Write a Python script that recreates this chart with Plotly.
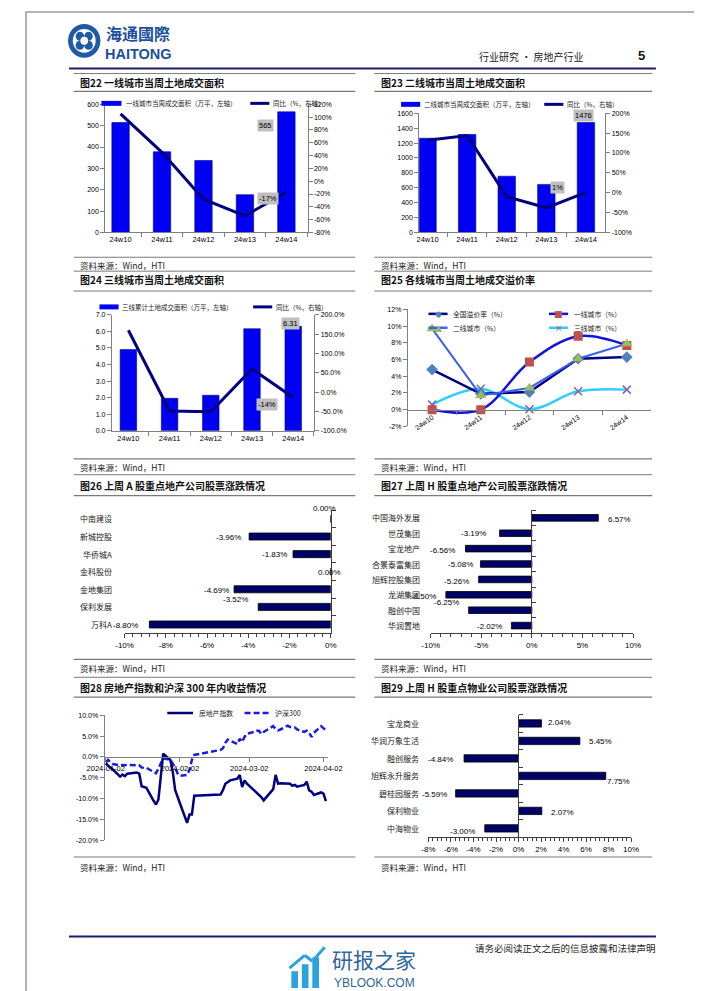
import plotly.graph_objects as go

# ---------------- data ----------------
weeks = ['24w10', '24w11', '24w12', '24w13', '24w14']
tier1_area = [515, 378, 337, 177, 565]
tier1_yoy = [105, 45, -28, -54, -17]
tier2_area = [1265, 1315, 755, 645, 1476]
tier2_yoy = [132, 144, -10, -38, 1]
tier3_area = [4.90, 1.96, 2.14, 6.16, 6.31]
tier3_yoy = [160, -49, -51, 60, -14]

prem_nat = [4.8, 1.9, 2.1, 6.1, 6.3]
prem_t1 = [0.0, 0.0, 5.7, 8.8, 7.7]
prem_t2 = [9.7, 1.7, 2.6, 6.1, 7.9]
prem_t3 = [0.6, 2.5, 0.05, 2.2, 2.4]

a_names = ['中南建设', '新城控股', '华侨城A', '金科股份', '金地集团', '保利发展', '万科A']
a_chg = [0.00, -3.96, -1.83, 0.00, -4.69, -3.52, -8.80]

h_names = ['中国海外发展', '世茂集团', '宝龙地产', '合景泰富集团', '旭辉控股集团', '龙湖集团', '融创中国', '华润置地']
h_chg = [6.57, -3.19, -6.56, -5.08, -5.26, -8.50, -6.25, -2.02]

pm_names = ['宝龙商业', '华润万象生活', '融创服务', '旭辉永升服务', '碧桂园服务', '保利物业', '中海物业']
pm_chg = [2.04, 5.45, -4.84, 7.75, -5.59, 2.07, -3.00]

dates = ['2024-01-02', '2024-01-03', '2024-01-04', '2024-01-05', '2024-01-08', '2024-01-09', '2024-01-10',
         '2024-01-11', '2024-01-12', '2024-01-15', '2024-01-16', '2024-01-17', '2024-01-18', '2024-01-19',
         '2024-01-22', '2024-01-23', '2024-01-24', '2024-01-25', '2024-01-26', '2024-01-29', '2024-01-30',
         '2024-01-31', '2024-02-01', '2024-02-02', '2024-02-05', '2024-02-06', '2024-02-07', '2024-02-08',
         '2024-02-19', '2024-02-20', '2024-02-21', '2024-02-22', '2024-02-23', '2024-02-26', '2024-02-27',
         '2024-02-28', '2024-02-29', '2024-03-01', '2024-03-04', '2024-03-05', '2024-03-06', '2024-03-07',
         '2024-03-08', '2024-03-11', '2024-03-12', '2024-03-13', '2024-03-14', '2024-03-15', '2024-03-18',
         '2024-03-19', '2024-03-20', '2024-03-21', '2024-03-22', '2024-03-25', '2024-03-26', '2024-03-27',
         '2024-03-28', '2024-03-29', '2024-04-01', '2024-04-02', '2024-04-03']
re_index = [-1.5, -2.1, -2.6, -3.0, -4.7, -4.2, -4.6, -4.0, -3.9, -3.7, -4.0, -7.0, -7.2, -7.4,
            -10.5, -11.4, -10.2, -4.5, 0.8, -0.7, -3.5, -7.9, -9.3, -11.1, -15.8, -13.8, -13.8, -9.3,
            -9.0, -7.9, -6.4, -6.1, -5.6, -5.2, -4.3, -7.2, -5.6, -6.4, -7.9, -8.5, -9.0, -9.6,
            -10.4, -8.5, -7.7, -4.3, -6.4, -6.3, -6.4, -6.4, -6.9, -6.7, -7.1, -6.7, -5.9, -8.0,
            -8.3, -9.1, -8.5, -8.8, -10.6]
hs300 = [-1.3, -0.7, -1.3, -1.7, -2.0, -1.9, -2.0, -1.8, -1.9, -1.9, -2.0, -2.5, -2.7, -2.6,
         -3.6, -3.9, -2.8, -1.3, -0.3, -0.7, -1.7, -2.5, -3.9, -4.5, -4.3, -3.1, -0.7, 0.5,
         1.7, 2.1, 3.4, 4.2, 3.9, 3.1, 4.4, 3.6, 4.8, 5.6, 6.0, 6.3, 6.3, 5.5,
         6.0, 7.1, 7.4, 6.7, 6.4, 6.6, 7.5, 7.2, 7.1, 7.1, 6.6, 6.0, 6.3, 5.8,
         4.8, 5.8, 7.4, 7.0, 6.4]

# tick labels
t22_l = [0, 100, 200, 300, 400, 500, 600]
t22_r = [-80, -60, -40, -20, 0, 20, 40, 60, 80, 100, 120]
t23_l = [0, 200, 400, 600, 800, 1000, 1200, 1400, 1600]
t23_r = [-100, -50, 0, 50, 100, 150, 200]
t24_l = [0, 1, 2, 3, 4, 5, 6, 7]
t24_r = [-100, -50, 0, 50, 100, 150, 200]
t25_y = [-2, 0, 2, 4, 6, 8, 10, 12]
t26_x = [-10, -8, -6, -4, -2, 0]
t27_x = [-10, -5, 0, 5, 10]
t28_y = [-20, -15, -10, -5, 0, 5, 10]
t28_x = ['2024-01-02', '2024-02-02', '2024-03-02', '2024-04-02']
t29_x = [-8, -6, -4, -2, 0, 2, 4, 6, 8, 10]

# ---------------- styling helpers ----------------
W, H = 702, 991
CJK = "Noto Sans CJK SC, sans-serif"
NUM = "Liberation Sans, Arial, sans-serif"
GRAY = "#808080"
DARK = "#404040"
BLUE = "#0000F2"
NAVY = "#000080"
HBAR = "#000066"


def X(px):
    return px / W


def Y(py):
    return 1 - py / H


def pct(vals, fmt="{:g}%"):
    return [fmt.format(v).replace('−', '-') for v in vals]


shapes = []
ann = []


def line_px(x0, y0, x1, y1, color, width=1, dash='solid'):
    shapes.append(dict(type='line', xref='paper', yref='paper', x0=X(x0), y0=Y(y0), x1=X(x1), y1=Y(y1),
                       line=dict(color=color, width=width, dash=dash)))


def rect_px(x0, y0, x1, y1, fill, lc=None, lw=0):
    shapes.append(dict(type='rect', xref='paper', yref='paper', x0=X(x0), y0=Y(y1), x1=X(x1), y1=Y(y0),
                       fillcolor=fill, line=dict(color=lc or fill, width=lw)))


def circ_px(x0, y0, x1, y1, fill):
    shapes.append(dict(type='circle', xref='paper', yref='paper', x0=X(x0), y0=Y(y1), x1=X(x1), y1=Y(y0),
                       fillcolor=fill, line=dict(color=fill, width=0)))


def text_px(x, y, s, size, color='#000', xanchor='left', family=CJK, bold=False):
    ann.append(dict(xref='paper', yref='paper', x=X(x), y=Y(y), text=f'<b>{s}</b>' if bold else s,
                    showarrow=False, xanchor=xanchor, yanchor='middle',
                    font=dict(family=family, size=size, color=color)))


def axis(**kw):
    d = dict(showgrid=False, zeroline=False, showline=True, linecolor=GRAY, linewidth=1,
             ticks='outside', ticklen=4, tickcolor=GRAY, tickwidth=1,
             tickfont=dict(family=NUM, size=7, color='#000'), fixedrange=True)
    d.update(kw)
    return d


fig = go.Figure()

# ---------------- page frame, header, footer ----------------
shapes.append(dict(type='rect', xref='paper', yref='paper', x0=0, x1=1, y0=0, y1=1,
                   line=dict(color='#9a9a9a', width=1.5)))
# logo emblem
circ_px(44, 12, 78, 46, '#1E5AA6')
circ_px(49, 17, 73, 41, '#ffffff')
circ_px(52, 20, 61, 29, '#1E5AA6')
circ_px(61, 20, 70, 29, '#1E5AA6')
circ_px(52, 29, 61, 38, '#1E5AA6')
circ_px(61, 29, 70, 38, '#1E5AA6')
circ_px(57, 25, 65, 33, '#ffffff')
text_px(82, 21.5, '海通國際', 16, '#1B4F9C', bold=True)
text_px(81, 42, 'HAITONG', 14.5, '#1B4F9C', family=NUM, bold=True)
text_px(529, 45, '行业研究 • 房地产行业', 10, '#222', xanchor='center')
text_px(645, 44, '5', 13, '#111', xanchor='center', family=NUM, bold=True)
line_px(45, 57, 660, 57, '#1C1C6C', 2)

line_px(45, 931, 660, 931, '#1C1C6C', 2)
text_px(662, 943, '请务必阅读正文之后的信息披露和法律声明', 9.5, '#222', xanchor='right')
# watermark
rect_px(278, 966, 285, 983, '#2AA3DF')
rect_px(289, 959, 296, 983, '#2AA3DF')
rect_px(300, 952, 307, 983, '#2AA3DF')
line_px(276, 963, 292, 950, '#2AA3DF', 3)
line_px(292, 950, 300, 956, '#2AA3DF', 3)
line_px(300, 956, 313, 942, '#2AA3DF', 3)
text_px(319, 954, '研报之家', 21, '#2F669E')
text_px(321, 978, 'YBLOOK.COM', 12, '#2F669E', family=NUM)

# ---------------- section frames ----------------
rows = [
    (62, 71, 80, 247, 255),
    (261, 269, 281, 450, 458),
    (466, 477, 487, 652, 661),
    (670, 680, 690, 851, 861),
]
titles = [
    ('图22 一线城市当周土地成交面积', '图23 二线城市当周土地成交面积'),
    ('图24 三线城市当周土地成交面积', '图25 各线城市当周土地成交溢价率'),
    ('图26 上周 A 股重点地产公司股票涨跌情况', '图27 上周 H 股重点地产公司股票涨跌情况'),
    ('图28 房地产指数和沪深 300 年内收益情况', '图29 上周 H 股重点物业公司股票涨跌情况'),
]
cols = [(50, 345, 55), (365, 656, 370)]
for (top, ty, under, bottom, sy), tt in zip(rows, titles):
    for (cx0, cx1, tx), t in zip(cols, tt):
        line_px(cx0, top, cx1, top, '#7a7a7a', 1)
        line_px(cx0, under, cx1, under, '#7a7a7a', 1.2)
        line_px(cx0, bottom, cx1, bottom, '#7a7a7a', 1.2)
        text_px(tx, ty, t, 10, '#111', bold=True)
        text_px(tx, sy, '资料来源：Wind，HTI', 8.5, '#222')

# ---------------- chart 22 ----------------
fig.add_trace(go.Bar(x=weeks, y=tier1_area, xaxis='x', yaxis='y', width=0.42,
                     marker=dict(color=BLUE, line=dict(color='#00008B', width=0.6)), showlegend=False))
fig.add_trace(go.Scatter(x=weeks, y=tier1_yoy, xaxis='x', yaxis='y9', mode='lines',
                         line=dict(color=NAVY, width=3), showlegend=False))
# ---------------- chart 23 ----------------
fig.add_trace(go.Bar(x=weeks, y=tier2_area, xaxis='x2', yaxis='y2', width=0.44,
                     marker=dict(color=BLUE, line=dict(color='#00008B', width=0.6)), showlegend=False))
fig.add_trace(go.Scatter(x=weeks, y=tier2_yoy, xaxis='x2', yaxis='y10', mode='lines',
                         line=dict(color=NAVY, width=3), showlegend=False))
# ---------------- chart 24 ----------------
fig.add_trace(go.Bar(x=weeks, y=tier3_area, xaxis='x3', yaxis='y3', width=0.40,
                     marker=dict(color=BLUE, line=dict(color='#00008B', width=0.6)), showlegend=False))
fig.add_trace(go.Scatter(x=weeks, y=tier3_yoy, xaxis='x3', yaxis='y11', mode='lines',
                         line=dict(color=NAVY, width=3), showlegend=False))
# ---------------- chart 25 ----------------
fig.add_trace(go.Scatter(x=weeks, y=prem_t3, xaxis='x4', yaxis='y4', mode='lines+markers',
                         line=dict(color='#33CCFF', width=2.5, shape='spline', smoothing=1),
                         marker=dict(symbol='x-thin', size=8, line=dict(color='#8064A2', width=1.5)),
                         showlegend=False))
fig.add_trace(go.Scatter(x=weeks, y=prem_nat, xaxis='x4', yaxis='y4', mode='lines+markers',
                         line=dict(color=NAVY, width=2.5),
                         marker=dict(symbol='diamond', size=9, color='#4F81BD'), showlegend=False))
fig.add_trace(go.Scatter(x=weeks, y=prem_t1, xaxis='x4', yaxis='y4', mode='lines+markers',
                         line=dict(color='#1414D8', width=2.5, shape='spline', smoothing=1),
                         marker=dict(symbol='square', size=9, color='#C0504D'), showlegend=False))
fig.add_trace(go.Scatter(x=weeks, y=prem_t2, xaxis='x4', yaxis='y4', mode='lines+markers',
                         line=dict(color='#3A62E8', width=2),
                         marker=dict(symbol='triangle-up', size=10, color='#9BBB59'), showlegend=False))
# ---------------- chart 26/27/29 ----------------
for xs, ys, xa, ya, w in [(a_chg, a_names, 'x5', 'y5', 0.40), (h_chg, h_names, 'x6', 'y6', 0.43),
                          (pm_chg, pm_names, 'x8', 'y8', 0.42)]:
    fig.add_trace(go.Bar(x=xs, y=ys, orientation='h', xaxis=xa, yaxis=ya, width=w,
                         marker=dict(color=HBAR, line=dict(color='#000000', width=0.8)), showlegend=False))
# ---------------- chart 28 ----------------
fig.add_trace(go.Scatter(x=dates, y=hs300, xaxis='x7', yaxis='y7', mode='lines',
                         line=dict(color='#1A1AE6', width=2.5, dash='6px,3px'), showlegend=False))
fig.add_trace(go.Scatter(x=dates, y=re_index, xaxis='x7', yaxis='y7', mode='lines',
                         line=dict(color=NAVY, width=2.5), showlegend=False))

# ---------------- legends (manual) ----------------
# chart 22
rect_px(79, 89.5, 100, 94.5, BLUE)
text_px(103, 92, '一线城市当周成交面积（万平，左轴）', 6.5, '#222')
line_px(235, 92, 255, 92, NAVY, 3)
text_px(257, 92, '同比（%，右轴）', 6.5, '#222')
# chart 23
rect_px(393, 90.5, 413, 95.5, BLUE)
text_px(415, 93, '二线城市当周成交面积（万平，左轴）', 6.5, '#222')
line_px(543, 93, 563, 93, NAVY, 3)
text_px(565, 93, '同比（%，右轴）', 6.5, '#222')
# chart 24
rect_px(77, 294.5, 97, 299.5, BLUE)
text_px(99, 297, '三线累计土地成交面积（万平，左轴）', 6.5, '#222')
line_px(238, 297, 258, 297, NAVY, 3)
text_px(260, 297, '同比（%，右轴）', 6.5, '#222')
# chart 25
leg25 = [(421.7, 304, NAVY, '◆', '#4F81BD', '全国溢价率（%）'),
         (548, 304, '#1414D8', '■', '#C0504D', '一线城市（%）'),
         (421.7, 318, '#3A62E8', '▲', '#9BBB59', '二线城市（%）'),
         (548, 318, '#33CCFF', '×', '#8064A2', '三线城市（%）')]
for lx, ly, lc, sym, mc, lab in leg25:
    line_px(lx, ly, lx + 20, ly, lc, 2.5)
    text_px(lx + 10, ly, sym, 9, mc, xanchor='center', family='DejaVu Sans')
    text_px(lx + 24, ly, lab, 6.8, '#222')
# chart 28
line_px(148, 706, 175, 706, NAVY, 2.5)
text_px(179, 706, '房地产指数', 6.8, '#222')
line_px(229, 706, 256, 706, '#1A1AE6', 2.5, '6px,3px')
text_px(259, 706, '沪深300', 7, '#222')

# ---------------- data labels ----------------
def boxlab(xa, ya, x, y, s, xs, ys):
    ann.append(dict(xref=xa, yref=ya, x=x, y=y, text=s, showarrow=False, xshift=xs, yshift=ys,
                    bgcolor='#BFBFBF', borderpad=1, font=dict(family=NUM, size=7.5, color='#000')))


boxlab('x', 'y', weeks[4], tier1_area[4], f'{tier1_area[4]}', -21, -14)
boxlab('x', 'y9', weeks[4], tier1_yoy[4], f'{tier1_yoy[4]}%', -18, -6)
boxlab('x2', 'y2', weeks[4], tier2_area[4], f'{tier2_area[4]}', -2, 7)
boxlab('x2', 'y10', weeks[4], tier2_yoy[4], f'{tier2_yoy[4]}%', -28, 5)
boxlab('x3', 'y3', weeks[4], tier3_area[4], f'{tier3_area[4]:.2f}', -3, 3)
boxlab('x3', 'y11', weeks[4], tier3_yoy[4], f'{tier3_yoy[4]}%', -26, -7)

lab_a = [('center', -6, 10.6), ('right', -6, -1), ('right', -4, 0), ('center', -1, -1),
         ('right', -3, -1), ('right', -8, 7.4), ('right', -9, -1.5)]
lab_h = [('left', 8, -1.5), ('right', -12, 0), ('right', -8, -2), ('right', -5.5, 0),
         ('right', -7.5, -2), ('right', -7.5, -2), ('right', -8, 8), ('right', -7, -1)]
lab_pm = [('left', 5, 1), ('left', 6.7, -1), ('right', -9, -0.6), ('left', -0.5, -6),
          ('right', -7, -1), ('left', 7, -2), ('right', -7.6, -3)]
for vals, names, offs, xa, ya, catx in [(a_chg, a_names, lab_a, 'x5', 'y5', 92.5),
                                        (h_chg, h_names, lab_h, 'x6', 'y6', 415),
                                        (pm_chg, pm_names, lab_pm, 'x8', 'y8', 414)]:
    for v, n, (xan, xs, ys) in zip(vals, names, offs):
        ann.append(dict(xref=xa, yref=ya, x=v, y=n, text=f'{v:.2f}%', showarrow=False, xanchor=xan,
                        xshift=xs, yshift=ys, font=dict(family=NUM, size=8, color='#000')))
        ann.append(dict(xref='paper', yref=ya, x=X(catx), y=n, text=n, showarrow=False, xanchor='right',
                        font=dict(family=CJK, size=8, color='#222')))

# ---------------- axes ----------------
cat5 = dict(type='category', categoryorder='array', categoryarray=weeks, tickson='boundaries')
lay = {}
lay['xaxis'] = axis(domain=[X(83), X(295)], anchor='y', range=[-0.37, 4.51],
                    tickfont=dict(family=NUM, size=7.5, color='#000'), **cat5)
lay['yaxis'] = axis(domain=[Y(222), Y(93)], anchor='x', range=[0, 600], tickvals=t22_l)
lay['yaxis9'] = axis(overlaying='y', anchor='x', side='right', range=[-80, 120],
                     tickvals=t22_r, ticktext=pct(t22_r))
lay['xaxis2'] = axis(domain=[X(412), X(607)], anchor='y2', range=[-0.21, 4.49],
                     tickfont=dict(family=NUM, size=7.5, color='#000'), **cat5)
lay['yaxis2'] = axis(domain=[Y(222), Y(102)], anchor='x2', range=[0, 1600], tickvals=t23_l)
lay['yaxis10'] = axis(overlaying='y2', anchor='x2', side='right', range=[-100, 200],
                      tickvals=t23_r, ticktext=pct(t23_r))
lay['xaxis3'] = axis(domain=[X(90), X(302)], anchor='y3', range=[-0.40, 4.51],
                     tickfont=dict(family=NUM, size=7.5, color='#000'), **cat5)
lay['yaxis3'] = axis(domain=[Y(421.7), Y(305)], anchor='x3', range=[0, 7], tickvals=t24_l,
                     ticktext=[f'{v:.1f}' for v in t24_l])
lay['yaxis11'] = axis(overlaying='y3', anchor='x3', side='right', range=[-100, 200],
                      tickvals=t24_r, ticktext=pct(t24_r, '{:.1f}%'))
lay['xaxis4'] = axis(domain=[X(400), X(655)], anchor='free', position=Y(400.7), range=[-0.5, 4.5],
                     tickangle=-35, tickfont=dict(family=NUM, size=7, color='#000'), **cat5)
lay['yaxis4'] = axis(domain=[Y(417.3), Y(299.6)], anchor='x4', range=[-2, 12],
                     tickvals=t25_y, ticktext=pct(t25_y))

hx = dict(linecolor=DARK, tickcolor=DARK, tickfont=dict(family=NUM, size=8, color='#000'))
hy = dict(type='category', tickson='boundaries', showticklabels=False, side='right',
          linecolor=DARK, tickcolor=DARK)
lay['xaxis5'] = axis(domain=[X(103.3), X(319.3)], anchor='y5', range=[-10, 0],
                     tickvals=t26_x, ticktext=pct(t26_x),
                     minor=dict(dtick=0.4, tick0=0, ticks='outside', ticklen=2.5, tickcolor=DARK), **hx)
lay['yaxis5'] = axis(domain=[Y(625.7), Y(501.7)], anchor='x5', categoryorder='array', categoryarray=a_names,
                     range=[len(a_names) - 0.5, -0.5], **hy)
lay['xaxis6'] = axis(domain=[X(424), X(636)], anchor='y6', range=[-10, 10],
                     tickvals=t27_x, ticktext=pct(t27_x),
                     minor=dict(dtick=1, tick0=0, ticks='outside', ticklen=2.5, tickcolor=DARK), **hx)
lay['yaxis6'] = axis(domain=[Y(625.7), Y(501.7)], anchor='free', position=X(529.3), categoryorder='array',
                     categoryarray=h_names, range=[len(h_names) - 0.5, -0.5], **hy)
lay['xaxis8'] = axis(domain=[X(421.7), X(634)], anchor='y8', range=[-8, 10],
                     tickvals=t29_x, ticktext=pct(t29_x),
                     minor=dict(dtick=0.4, tick0=0, ticks='outside', ticklen=2.5, tickcolor=DARK), **hx)
lay['yaxis8'] = axis(domain=[Y(831), Y(707.7)], anchor='free', position=X(515.7), categoryorder='array',
                     categoryarray=pm_names, range=[len(pm_names) - 0.5, -0.5], **hy)

lay['xaxis7'] = axis(domain=[X(82.3), X(316.7)], anchor='free', position=Y(750.3), type='date',
                     range=['2024-01-01 12:00', '2024-04-04 00:00'], tickvals=t28_x, ticktext=t28_x,
                     tickfont=dict(family=NUM, size=7.5, color='#000'))
lay['yaxis7'] = axis(domain=[Y(834.3), Y(708.3)], anchor='x7', range=[-20, 10],
                     tickvals=t28_y, ticktext=pct(t28_y, '{:.1f}%'))

fig.update_layout(
    width=W, height=H, margin=dict(l=0, r=0, t=0, b=0),
    paper_bgcolor='white', plot_bgcolor='rgba(0,0,0,0)',
    showlegend=False, shapes=shapes, annotations=ann, **lay)

fig.write_html("out.html")
